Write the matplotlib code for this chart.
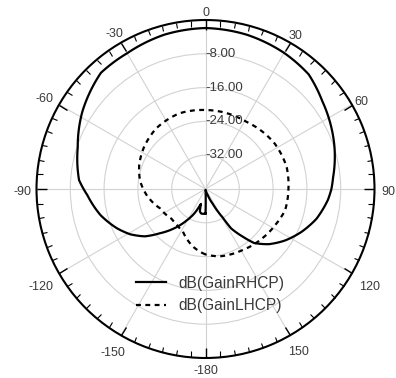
import numpy as np
import matplotlib
matplotlib.use("Agg")
import matplotlib.pyplot as plt
from matplotlib.ticker import FixedLocator

# ---- data (angle in degrees, gain in dB) ----
rhcp_theta = [-180, -175, -170, -166, -163, -160, -155, -149, -141, -134, -128, -121,
              -114, -104, -93, -86, -72, -58, -42, -30, -15, 0, 15, 30, 42, 53, 72,
              85, 90, 95, 105, 114, 123, 131, 138, 142, 147, 149, 154, 160, 170, 178, 180]
rhcp_db = [-34.2, -34.1, -34.1, -34.5, -36.3, -35.5, -33.5, -31.3, -27.9, -24.9, -21.8, -19.2,
           -17.1, -14.4, -12.0, -10.0, -8.2, -5.6, -3.0, -2.9, -2.2, -1.9, -2.2, -2.8, -3.5, -5.4, -7.9,
           -9.7, -10.2, -10.9, -12.8, -15.1, -17.6, -20.1, -22.8, -25.7, -28.9, -32.2, -36.1, -38.5, -39.8, -39.8, -34.2]

lhcp_theta = [-180, -175, -168, -152, -140, -131, -113, -96, -83, -70, -56, -39, -19, 0,
              31, 57, 75, 89, 105, 117, 131, 149, 168, 180]
lhcp_db = [-24.5, -25.1, -26.0, -28.6, -29.2, -29.3, -28.3, -26.0, -24.4, -23.3, -22.4, -21.5, -21.05, -21.3,
           -21.4, -20.4, -20.1, -20.35, -20.5, -21.4, -22.2, -23.1, -23.7, -24.5]

theta_ticks = [0, 30, 60, 90, 120, 150, 180, 210, 240, 270, 300, 330]
theta_labels = ["0", "30", "60", "90", "120", "150", "-180", "-150", "-120", "-90", "-60", "-30"]
r_ticks = [-32, -24, -16, -8]
r_labels = ["-32.00", "-24.00", "-16.00", "-8.00"]
series_names = ["dB(GainRHCP)", "dB(GainLHCP)"]

# label distance outside the ring (pixels), per angle label
label_dist = [10.5, 11, 11, 13.5, 21, 16, 10, 17, 20.5, 14.5, 17, 14]

plt.rcParams['font.family'] = ['Liberation Sans', 'DejaVu Sans']
txt_color = "#3a3a3a"

fig = plt.figure(figsize=(3.96, 3.78), dpi=100)
ax = fig.add_axes([0.0922, 0.0529, 0.8535, 0.8942], projection='polar')
ax.set_theta_zero_location('N')
ax.set_theta_direction(-1)
ax.set_rlim(-40, 0)

l1, = ax.plot(np.deg2rad(rhcp_theta), rhcp_db, color='black', lw=1.6, label=series_names[0])
l2, = ax.plot(np.deg2rad(lhcp_theta), lhcp_db, color='black', lw=1.6, linestyle=(0, (2.2, 2.0)),
              label=series_names[1])
for ln in (l1, l2):
    ln.get_path()._interpolation_steps = 16

ax.set_xticks(np.deg2rad(theta_ticks))
ax.set_xticklabels([])
ax.xaxis.set_minor_locator(FixedLocator(np.deg2rad(np.arange(0, 360, 5))))
ax.tick_params(axis='x', which='both', bottom=False, top=True)
ax.tick_params(axis='x', which='major', direction='in', length=7, width=1.0, color='black')
ax.tick_params(axis='x', which='minor', direction='in', length=4, width=0.8, color='black')

for ang, lbl, d in zip(theta_ticks, theta_labels, label_dist):
    a = np.deg2rad(ang)
    ax.annotate(lbl, xy=(a, 0), xytext=(d * np.sin(a), d * np.cos(a) - 3),
                textcoords='offset pixels', ha='center', va='center',
                fontsize=9, color=txt_color, annotation_clip=False)

ax.set_yticks(r_ticks)
ax.set_yticklabels([])
for v, lbl in zip(r_ticks, r_labels):
    ax.text(0, v, lbl, ha='left', va='center', fontsize=9.5, color=txt_color)

ax.grid(True, color='#d2d2d2', lw=0.8)
ax.spines['polar'].set_linewidth(1.5)
ax.spines['polar'].set_color('black')

leg = ax.legend(loc='center', bbox_to_anchor=(0.513, 0.188), frameon=False, fontsize=11.2,
                handlelength=1.95, handletextpad=0.8, labelspacing=0.5)
for t in leg.get_texts():
    t.set_color(txt_color)

fig.savefig("out.png", dpi=100)
